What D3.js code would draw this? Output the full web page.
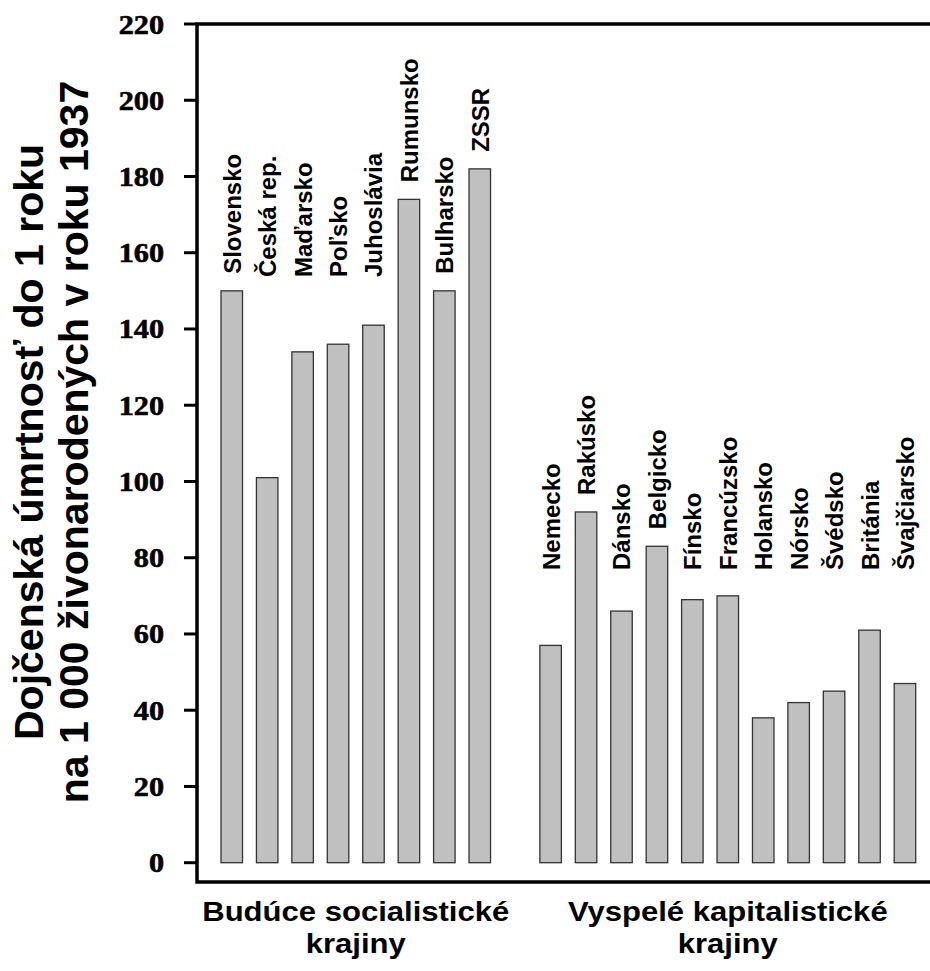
<!DOCTYPE html>
<html>
<head>
<meta charset="utf-8">
<script src="https://cdn.jsdelivr.net/npm/d3@7"></script>
<style>
  body { margin: 0; background: #fff; }
  text { font-family: "Liberation Sans", Arial, sans-serif; font-weight: bold; fill: #000; }
  .tick-label { font-family: "Liberation Serif", "Times New Roman", serif; }
</style>
</head>
<body>
<svg id="chart" width="930" height="971"></svg>
<script>
// infant mortality per 1000 live births, 1937
var socialist = ["Slovensko", "Česká rep.", "Maďarsko", "Poľsko", "Juhoslávia", "Rumunsko", "Bulharsko", "ZSSR"];
var socialistValues = [150, 101, 134, 136, 141, 174, 150, 182];
var capitalist = ["Nemecko", "Rakúsko", "Dánsko", "Belgicko", "Fínsko", "Francúzsko", "Holansko", "Nórsko", "Švédsko", "Británia", "Švajčiarsko"];
var capitalistValues = [57, 92, 66, 83, 69, 70, 38, 42, 45, 61, 47];
var yTicks = [0, 20, 40, 60, 80, 100, 120, 140, 160, 180, 200, 220];
var groupTitles = [["Budúce socialistické", "krajiny"], ["Vyspelé kapitalistické", "krajiny"]];
var yTitle = ["Dojčenská úmrtnosť do 1 roku", "na 1 000 živonarodených v roku 1937"];

var svg = d3.select('#chart');

var frameLeft = 197, frameTop = 24, frameBottom = 882;

var y = d3.scaleLinear().domain([0, 220]).range([862.7, 24]);

// one empty slot between the two groups
var slots = socialist.concat(["__gap"], capitalist);
var x = d3.scaleBand().domain(slots).range([221, 915.7]).paddingInner(0.393).paddingOuter(0);

var bars = [];
socialist.forEach(function(d, i) { bars.push({name: d, value: socialistValues[i], group: 0}); });
capitalist.forEach(function(d, i) { bars.push({name: d, value: capitalistValues[i], group: 1}); });

// frame (open on the right, cut by the picture edge)
svg.append('path')
    .attr('d', 'M940,' + frameTop + 'H' + frameLeft + 'V' + frameBottom + 'H940')
    .attr('fill', 'none')
    .attr('stroke', '#000')
    .attr('stroke-width', 3.5);

// y ticks
svg.selectAll('.tick-line')
    .data(yTicks)
  .enter().append('line')
    .attr('x1', 184)
    .attr('x2', frameLeft)
    .attr('y1', function(d) { return y(d); })
    .attr('y2', function(d) { return y(d); })
    .attr('stroke', '#000')
    .attr('stroke-width', 3);

svg.selectAll('.tick-label')
    .data(yTicks)
  .enter().append('text')
    .attr('class', 'tick-label')
    .attr('text-anchor', 'end')
    .attr('transform', function(d) { return 'translate(164,' + (y(d) + 9.5) + ') scale(1.08,1)'; })
    .style('font-size', '28px')
    .style('stroke', '#000')
    .style('stroke-width', 0.6)
    .text(function(d) { return d; });

// bars
svg.selectAll('.bar')
    .data(bars)
  .enter().append('rect')
    .attr('class', 'bar')
    .attr('x', function(d) { return x(d.name); })
    .attr('y', function(d) { return y(d.value); })
    .attr('width', x.bandwidth())
    .attr('height', function(d) { return y(0) - y(d.value); })
    .attr('fill', '#c0c0c0')
    .attr('stroke', '#333')
    .attr('stroke-width', 1.3);

// bar names, lifted above tall bars
var labelBase = [277, 570];
svg.selectAll('.bar-label')
    .data(bars)
  .enter().append('text')
    .attr('class', 'bar-label')
    .attr('transform', function(d) {
      var ly = Math.min(labelBase[d.group], y(d.value) - 17);
      return 'translate(' + (x(d.name) + x.bandwidth() / 2 + 9) + ',' + ly + ') rotate(-90)';
    })
    .style('font-size', '24px')
    .text(function(d) { return d.name; });

// y title
svg.selectAll('.y-title')
    .data(yTitle)
  .enter().append('text')
    .attr('class', 'y-title')
    .attr('text-anchor', 'middle')
    .attr('transform', function(d, i) { return 'translate(' + (43 + i * 45) + ',442) rotate(-90)'; })
    .style('font-size', '41px')
    .text(function(d) { return d; });

// group titles
var groupCenters = [
  (x(socialist[0]) + x(socialist[socialist.length - 1]) + x.bandwidth()) / 2,
  (x(capitalist[0]) + x(capitalist[capitalist.length - 1]) + x.bandwidth()) / 2
];
groupTitles.forEach(function(lines, g) {
  lines.forEach(function(t, i) {
    svg.append('text')
        .attr('text-anchor', 'middle')
        .attr('transform', 'translate(' + groupCenters[g] + ',' + (921 + i * 32) + ') scale(1.15,1)')
        .style('font-size', '27px')
        .text(t);
  });
});
</script>
</body>
</html>
